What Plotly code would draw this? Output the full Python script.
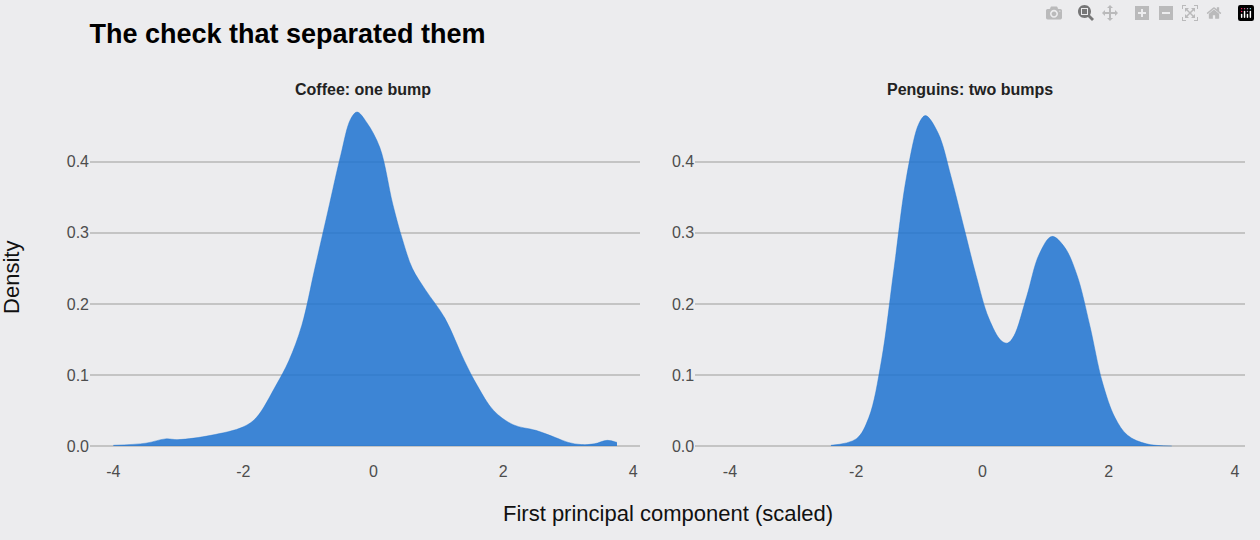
import plotly.graph_objects as go
from plotly.subplots import make_subplots

coffee_x = [-4.0, -3.5, -3.2, -3.0, -2.5, -2.0, -1.8, -1.5, -1.3, -1.1, -0.9, -0.7, -0.5, -0.35, -0.25,
            -0.1, 0.1, 0.3, 0.45, 0.6, 0.8, 1.1, 1.4, 1.6, 1.85, 2.15, 2.5, 2.8, 3.0, 3.2, 3.4, 3.6, 3.75]
coffee_y = [0.001, 0.004, 0.01, 0.009, 0.015, 0.027, 0.04, 0.085, 0.12, 0.17, 0.25, 0.33, 0.41, 0.46, 0.47,
            0.455, 0.42, 0.34, 0.29, 0.25, 0.22, 0.18, 0.12, 0.085, 0.05, 0.03, 0.022, 0.012, 0.005, 0.002, 0.003, 0.008, 0.005]

peng_x = [-2.4, -2.0, -1.8, -1.6, -1.4, -1.2, -1.0, -0.9, -0.7, -0.5, -0.3, -0.1, 0.1, 0.3, 0.4, 0.5,
          0.7, 0.9, 1.1, 1.3, 1.5, 1.7, 1.9, 2.1, 2.3, 2.6, 3.0]
peng_y = [0.001, 0.01, 0.04, 0.12, 0.25, 0.38, 0.455, 0.465, 0.44, 0.38, 0.31, 0.24, 0.18, 0.148, 0.145, 0.155,
          0.21, 0.27, 0.295, 0.28, 0.24, 0.17, 0.09, 0.04, 0.015, 0.003, 0.0]

panel_titles = ["Coffee: one bump", "Penguins: two bumps"]
x_ticks = [-4, -2, 0, 2, 4]
x_labels = ["-4", "-2", "0", "2", "4"]
fill = "rgba(31,115,208,0.85)"
bg = "#ECECEE"

fig = make_subplots(rows=1, cols=2, horizontal_spacing=0.048)
for i, (x, y) in enumerate([(coffee_x, coffee_y), (peng_x, peng_y)], start=1):
    fig.add_trace(go.Scatter(x=x, y=y, mode="lines", line=dict(width=0.5, color=fill, shape="spline"),
                             fill="tozeroy", fillcolor=fill, showlegend=False), row=1, col=i)

axfont = dict(family="Liberation Sans, Arial", size=16, color="#4d4d4d")
fig.update_xaxes(showgrid=False, zeroline=False, tickvals=x_ticks, ticktext=x_labels, tickfont=axfont)
fig.update_yaxes(showgrid=True, gridcolor="#c4c4c4", gridwidth=1.5, zeroline=False,
                 tickvals=[0, 0.1, 0.2, 0.3, 0.4], tickformat=".1f", tickfont=axfont,
                 range=[-0.0197, 0.494])
fig.update_xaxes(range=[-4.36, 4.1], row=1, col=1)
fig.update_xaxes(range=[-4.55, 4.16], row=1, col=2)

for xpos, t in zip([0.236, 0.762], panel_titles):
    fig.add_annotation(text="<b>" + t + "</b>", x=xpos, y=1.045, xref="paper", yref="paper",
                       xanchor="center", showarrow=False, font=dict(size=16, color="#222"))
fig.add_annotation(text="First principal component (scaled)", x=0.5, y=-0.185, xref="paper", yref="paper",
                   xanchor="center", showarrow=False, font=dict(size=22, color="#111"))
fig.add_annotation(text="Density", x=-0.068, y=0.5, xref="paper", yref="paper", textangle=-90,
                   xanchor="center", showarrow=False, font=dict(size=22, color="#111"))

fig.update_layout(
    width=1260, height=540,
    margin=dict(l=90, r=15, t=95, b=80),
    paper_bgcolor=bg, plot_bgcolor=bg,
    font=dict(family="Liberation Sans, Arial"),
    title=dict(text="<b>The check that separated them</b>", x=0.071, y=0.955, xanchor="left",
               font=dict(size=27, color="#000")),
)
fig.write_html("out.html", post_script="document.body.style.margin='0';")
